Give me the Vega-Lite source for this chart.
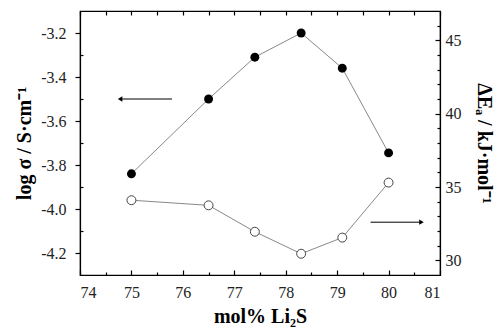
{
  "$schema": "https://vega.github.io/schema/vega-lite/v6.json",
  "width": 360,
  "height": 264,
  "autosize": {"type": "none"},
  "padding": {"left": 80, "top": 11, "right": 57, "bottom": 54},
  "background": "white",
  "config": {
    "view": {"stroke": "black", "strokeWidth": 1.2},
    "axis": {
      "grid": false,
      "labelFont": "Liberation Serif",
      "labelFontSize": 16,
      "labelColor": "#222",
      "titleFont": "Liberation Serif",
      "titleFontSize": 20,
      "titleFontWeight": "bold",
      "titleColor": "black",
      "domainColor": "black",
      "domainWidth": 1.2,
      "tickColor": "black",
      "tickWidth": 1.2
    }
  },
  "datasets": {
    "sigma": [
      {"x": 75, "y": -3.84},
      {"x": 76.5, "y": -3.5},
      {"x": 77.4, "y": -3.31},
      {"x": 78.3, "y": -3.2},
      {"x": 79.1, "y": -3.36},
      {"x": 80, "y": -3.745}
    ],
    "ea": [
      {"x": 75, "y": 34.1},
      {"x": 76.5, "y": 33.75},
      {"x": 77.4, "y": 31.95},
      {"x": 78.3, "y": 30.45},
      {"x": 79.1, "y": 31.55},
      {"x": 80, "y": 35.3}
    ],
    "arrowL": [{"tail": 75.79, "head": 74.78, "y": -3.5}],
    "arrowR": [{"tail": 79.65, "head": 80.64, "y": 32.6}]
  },
  "layer": [
    {
      "layer": [
        {
          "data": {"name": "sigma"},
          "mark": {"type": "line", "color": "#888", "strokeWidth": 1},
          "encoding": {
            "x": {"field": "x", "type": "quantitative", "scale": {"domain": [74, 81], "nice": false, "zero": false},
              "axis": {"orient": "bottom", "values": [74, 75, 76, 77, 78, 79, 80, 81], "tickSize": -5, "labelPadding": 14, "format": "d",
                "labelFont": "Liberation Serif", "labelFontSize": 16, "titleFont": "Liberation Serif", "titleFontSize": 20, "titleFontWeight": "bold",
                "title": "mol% Li₂S", "titlePadding": 6}},
            "y": {"field": "y", "type": "quantitative", "scale": {"domain": [-4.3, -3.1], "nice": false, "zero": false},
              "axis": {"orient": "left", "values": [-4.2, -4.0, -3.8, -3.6, -3.4, -3.2], "tickSize": 5, "labelPadding": 9,
                "labelFont": "Liberation Serif", "labelFontSize": 16, "titleFont": "Liberation Serif", "titleFontSize": 20, "titleFontWeight": "bold",
                "labelExpr": "datum.value < 0 ? '-' + format(-datum.value, '.1f') : format(datum.value, '.1f')",
                "title": "log σ / S·cm⁻¹", "titlePadding": 6}}
          }
        },
        {
          "data": {"name": "sigma"},
          "mark": {"type": "point", "shape": "circle", "filled": true, "color": "black", "size": 80, "opacity": 1},
          "encoding": {
            "x": {"field": "x", "type": "quantitative",
              "axis": {"orient": "bottom", "values": [74.5, 75.5, 76.5, 77.5, 78.5, 79.5, 80.5], "tickSize": -3, "labels": false, "domain": false, "title": null}},
            "y": {"field": "y", "type": "quantitative",
              "axis": {"orient": "left", "values": [-4.1, -3.9, -3.7, -3.5, -3.3], "tickSize": -3, "labels": false, "domain": false, "title": null}}
          }
        },
        {
          "data": {"name": "arrowL"},
          "mark": {"type": "rule", "color": "black", "strokeWidth": 1},
          "encoding": {
            "x": {"field": "tail", "type": "quantitative",
              "axis": {"orient": "top", "values": [74, 75, 76, 77, 78, 79, 80, 81], "tickSize": -4, "labels": false, "title": null}},
            "x2": {"field": "head"},
            "y": {"field": "y", "type": "quantitative", "axis": null}
          }
        },
        {
          "data": {"name": "arrowL"},
          "mark": {"type": "point", "shape": "triangle-left", "filled": true, "color": "black", "size": 28, "opacity": 1},
          "encoding": {
            "x": {"field": "head", "type": "quantitative",
              "axis": {"orient": "top", "values": [74.5, 75.5, 76.5, 77.5, 78.5, 79.5, 80.5], "tickSize": -4, "labels": false, "domain": false, "title": null}},
            "y": {"field": "y", "type": "quantitative", "axis": null}
          }
        }
      ],
      "resolve": {"axis": {"x": "independent", "y": "independent"}}
    },
    {
      "layer": [
        {
          "data": {"name": "ea"},
          "mark": {"type": "line", "color": "#888", "strokeWidth": 1},
          "encoding": {
            "x": {"field": "x", "type": "quantitative", "axis": null},
            "y": {"field": "y", "type": "quantitative", "scale": {"domain": [29, 47], "nice": false, "zero": false},
              "axis": {"orient": "right", "values": [30, 35, 40, 45], "tickSize": -5, "labelPadding": 10,
                "labelFont": "Liberation Serif", "labelFontSize": 16, "titleFont": "Liberation Serif", "titleFontSize": 20, "titleFontWeight": "bold",
                "title": "ΔEₐ / kJ·mol⁻¹", "titlePadding": 12}}
          }
        },
        {
          "data": {"name": "ea"},
          "mark": {"type": "point", "shape": "circle", "filled": true, "fill": "white", "stroke": "#444", "strokeWidth": 1, "size": 80, "opacity": 1},
          "encoding": {
            "x": {"field": "x", "type": "quantitative", "axis": null},
            "y": {"field": "y", "type": "quantitative",
              "axis": {"orient": "right", "values": [31, 32, 33, 34, 36, 37, 38, 39, 41, 42, 43, 44, 46], "tickSize": -3, "labels": false, "domain": false, "title": null}}
          }
        },
        {
          "data": {"name": "arrowR"},
          "mark": {"type": "rule", "color": "black", "strokeWidth": 1},
          "encoding": {
            "x": {"field": "tail", "type": "quantitative", "axis": null},
            "x2": {"field": "head"},
            "y": {"field": "y", "type": "quantitative", "axis": null}
          }
        },
        {
          "data": {"name": "arrowR"},
          "mark": {"type": "point", "shape": "triangle-right", "filled": true, "color": "black", "size": 28, "opacity": 1},
          "encoding": {
            "x": {"field": "head", "type": "quantitative", "axis": null},
            "y": {"field": "y", "type": "quantitative", "axis": null}
          }
        }
      ],
      "resolve": {"axis": {"y": "independent"}}
    }
  ],
  "resolve": {"scale": {"y": "independent"}, "axis": {"x": "independent"}}
}
